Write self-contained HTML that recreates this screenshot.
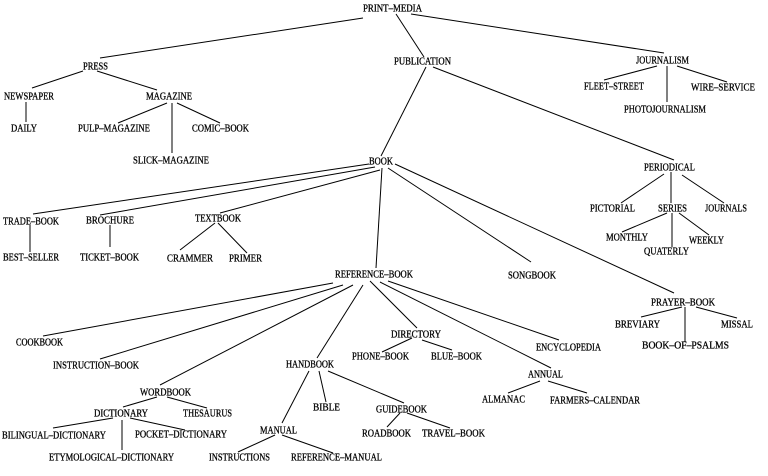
<!DOCTYPE html>
<html><head><meta charset="utf-8"><style>
html,body{margin:0;padding:0;background:#fff;}
svg{display:block;}
text{font-family:"Liberation Serif",serif;font-size:10.5px;fill:#000;stroke:#000;stroke-width:0.3;}
line{stroke:#000;stroke-width:1;}
</style></head><body>
<svg width="768" height="476" viewBox="0 0 768 476" xmlns="http://www.w3.org/2000/svg">
<g>
<line x1="363" y1="18" x2="100" y2="58"/>
<line x1="396" y1="14" x2="424" y2="57"/>
<line x1="411" y1="14" x2="664" y2="53"/>
<line x1="83" y1="71" x2="32" y2="88"/>
<line x1="97" y1="71" x2="157" y2="90"/>
<line x1="26" y1="102" x2="26" y2="122"/>
<line x1="167" y1="103" x2="118" y2="123"/>
<line x1="172" y1="103" x2="172" y2="153"/>
<line x1="177" y1="103" x2="220" y2="123"/>
<line x1="426" y1="67" x2="381" y2="156"/>
<line x1="433" y1="67" x2="674" y2="160"/>
<line x1="657" y1="66" x2="604" y2="80"/>
<line x1="667" y1="66" x2="667" y2="102"/>
<line x1="677" y1="66" x2="727" y2="82"/>
<line x1="369" y1="164" x2="33" y2="214"/>
<line x1="375" y1="167" x2="100" y2="215"/>
<line x1="380" y1="170" x2="220" y2="213"/>
<line x1="382" y1="168" x2="376" y2="268"/>
<line x1="388" y1="168" x2="531" y2="262"/>
<line x1="395" y1="164" x2="674" y2="293"/>
<line x1="664" y1="174" x2="621" y2="203"/>
<line x1="671" y1="172" x2="671" y2="203"/>
<line x1="682" y1="175" x2="724" y2="203"/>
<line x1="667" y1="213" x2="622" y2="232"/>
<line x1="672" y1="213" x2="672" y2="247"/>
<line x1="679" y1="213" x2="709" y2="235"/>
<line x1="30" y1="225" x2="30" y2="252"/>
<line x1="110" y1="225" x2="110" y2="247"/>
<line x1="215" y1="223" x2="180" y2="250"/>
<line x1="218" y1="223" x2="247" y2="253"/>
<line x1="333" y1="283" x2="43" y2="336"/>
<line x1="343" y1="285" x2="100" y2="359"/>
<line x1="353" y1="285" x2="160" y2="385"/>
<line x1="363" y1="285" x2="317" y2="358"/>
<line x1="370" y1="281" x2="417" y2="328"/>
<line x1="380" y1="282" x2="551" y2="368"/>
<line x1="388" y1="281" x2="559" y2="340"/>
<line x1="412" y1="338" x2="382" y2="352"/>
<line x1="422" y1="340" x2="452" y2="350"/>
<line x1="682" y1="307" x2="641" y2="317"/>
<line x1="685" y1="307" x2="685" y2="342"/>
<line x1="696" y1="307" x2="737" y2="318"/>
<line x1="540" y1="381" x2="508" y2="393"/>
<line x1="548" y1="381" x2="587" y2="393"/>
<line x1="157" y1="397" x2="123" y2="407"/>
<line x1="167" y1="397" x2="207" y2="408"/>
<line x1="113" y1="418" x2="53" y2="428"/>
<line x1="122" y1="420" x2="122" y2="450"/>
<line x1="130" y1="418" x2="185" y2="430"/>
<line x1="309" y1="371" x2="282" y2="423"/>
<line x1="319" y1="371" x2="326" y2="402"/>
<line x1="328" y1="371" x2="404" y2="403"/>
<line x1="400" y1="413" x2="387" y2="427"/>
<line x1="407" y1="413" x2="450" y2="428"/>
<line x1="275" y1="435" x2="238" y2="452"/>
<line x1="282" y1="435" x2="333" y2="453"/>
</g>
<g>
<text x="363" y="11.5" textLength="59" lengthAdjust="spacingAndGlyphs">PRINT–MEDIA</text>
<text x="83" y="69.5" textLength="25" lengthAdjust="spacingAndGlyphs">PRESS</text>
<text x="394" y="64.5" textLength="57" lengthAdjust="spacingAndGlyphs">PUBLICATION</text>
<text x="636" y="63.5" textLength="53" lengthAdjust="spacingAndGlyphs">JOURNALISM</text>
<text x="4" y="99.5" textLength="50" lengthAdjust="spacingAndGlyphs">NEWSPAPER</text>
<text x="146" y="99.5" textLength="46" lengthAdjust="spacingAndGlyphs">MAGAZINE</text>
<text x="584" y="89.5" textLength="60" lengthAdjust="spacingAndGlyphs">FLEET–STREET</text>
<text x="691" y="90.5" textLength="64" lengthAdjust="spacingAndGlyphs">WIRE–SERVICE</text>
<text x="624" y="112.5" textLength="82" lengthAdjust="spacingAndGlyphs">PHOTOJOURNALISM</text>
<text x="11" y="131.5" textLength="26" lengthAdjust="spacingAndGlyphs">DAILY</text>
<text x="78" y="131.5" textLength="72" lengthAdjust="spacingAndGlyphs">PULP–MAGAZINE</text>
<text x="192" y="131.5" textLength="57" lengthAdjust="spacingAndGlyphs">COMIC–BOOK</text>
<text x="133" y="163.5" textLength="76" lengthAdjust="spacingAndGlyphs">SLICK–MAGAZINE</text>
<text x="369" y="164.5" textLength="24" lengthAdjust="spacingAndGlyphs">BOOK</text>
<text x="644" y="170.5" textLength="51" lengthAdjust="spacingAndGlyphs">PERIODICAL</text>
<text x="3" y="224.5" textLength="56" lengthAdjust="spacingAndGlyphs">TRADE–BOOK</text>
<text x="86" y="223.5" textLength="48" lengthAdjust="spacingAndGlyphs">BROCHURE</text>
<text x="195" y="221.5" textLength="46" lengthAdjust="spacingAndGlyphs">TEXTBOOK</text>
<text x="590" y="211.5" textLength="45" lengthAdjust="spacingAndGlyphs">PICTORIAL</text>
<text x="658" y="211.5" textLength="29" lengthAdjust="spacingAndGlyphs">SERIES</text>
<text x="705" y="211.5" textLength="42" lengthAdjust="spacingAndGlyphs">JOURNALS</text>
<text x="606" y="240.5" textLength="42" lengthAdjust="spacingAndGlyphs">MONTHLY</text>
<text x="689" y="243.5" textLength="35" lengthAdjust="spacingAndGlyphs">WEEKLY</text>
<text x="644" y="254.5" textLength="45" lengthAdjust="spacingAndGlyphs">QUATERLY</text>
<text x="3" y="260.5" textLength="56" lengthAdjust="spacingAndGlyphs">BEST–SELLER</text>
<text x="80" y="260.5" textLength="59" lengthAdjust="spacingAndGlyphs">TICKET–BOOK</text>
<text x="167" y="261.5" textLength="46" lengthAdjust="spacingAndGlyphs">CRAMMER</text>
<text x="229" y="261.5" textLength="33" lengthAdjust="spacingAndGlyphs">PRIMER</text>
<text x="335" y="277.5" textLength="78" lengthAdjust="spacingAndGlyphs">REFERENCE–BOOK</text>
<text x="508" y="278.5" textLength="48" lengthAdjust="spacingAndGlyphs">SONGBOOK</text>
<text x="651" y="305.5" textLength="64" lengthAdjust="spacingAndGlyphs">PRAYER–BOOK</text>
<text x="615" y="327.5" textLength="45" lengthAdjust="spacingAndGlyphs">BREVIARY</text>
<text x="721" y="327.5" textLength="32" lengthAdjust="spacingAndGlyphs">MISSAL</text>
<text x="642" y="348.5" textLength="87" lengthAdjust="spacingAndGlyphs">BOOK–OF–PSALMS</text>
<text x="16" y="345.5" textLength="47" lengthAdjust="spacingAndGlyphs">COOKBOOK</text>
<text x="53" y="368.5" textLength="86" lengthAdjust="spacingAndGlyphs">INSTRUCTION–BOOK</text>
<text x="286" y="367.5" textLength="48" lengthAdjust="spacingAndGlyphs">HANDBOOK</text>
<text x="391" y="337.5" textLength="50" lengthAdjust="spacingAndGlyphs">DIRECTORY</text>
<text x="352" y="359.5" textLength="57" lengthAdjust="spacingAndGlyphs">PHONE–BOOK</text>
<text x="431" y="359.5" textLength="51" lengthAdjust="spacingAndGlyphs">BLUE–BOOK</text>
<text x="536" y="350.5" textLength="65" lengthAdjust="spacingAndGlyphs">ENCYCLOPEDIA</text>
<text x="528" y="377.5" textLength="35" lengthAdjust="spacingAndGlyphs">ANNUAL</text>
<text x="482" y="402.5" textLength="43" lengthAdjust="spacingAndGlyphs">ALMANAC</text>
<text x="550" y="403.5" textLength="90" lengthAdjust="spacingAndGlyphs">FARMERS–CALENDAR</text>
<text x="140" y="395.5" textLength="51" lengthAdjust="spacingAndGlyphs">WORDBOOK</text>
<text x="94" y="416.5" textLength="54" lengthAdjust="spacingAndGlyphs">DICTIONARY</text>
<text x="183" y="416.5" textLength="49" lengthAdjust="spacingAndGlyphs">THESAURUS</text>
<text x="313" y="410.5" textLength="27" lengthAdjust="spacingAndGlyphs">BIBLE</text>
<text x="376" y="412.5" textLength="51" lengthAdjust="spacingAndGlyphs">GUIDEBOOK</text>
<text x="2" y="438.5" textLength="104" lengthAdjust="spacingAndGlyphs">BILINGUAL–DICTIONARY</text>
<text x="135" y="437.5" textLength="92" lengthAdjust="spacingAndGlyphs">POCKET–DICTIONARY</text>
<text x="260" y="433.5" textLength="37" lengthAdjust="spacingAndGlyphs">MANUAL</text>
<text x="362" y="436.5" textLength="49" lengthAdjust="spacingAndGlyphs">ROADBOOK</text>
<text x="422" y="436.5" textLength="63" lengthAdjust="spacingAndGlyphs">TRAVEL–BOOK</text>
<text x="49" y="460.5" textLength="125" lengthAdjust="spacingAndGlyphs">ETYMOLOGICAL–DICTIONARY</text>
<text x="209" y="460.5" textLength="61" lengthAdjust="spacingAndGlyphs">INSTRUCTIONS</text>
<text x="291" y="460.5" textLength="91" lengthAdjust="spacingAndGlyphs">REFERENCE–MANUAL</text>
</g>
</svg>
</body></html>
